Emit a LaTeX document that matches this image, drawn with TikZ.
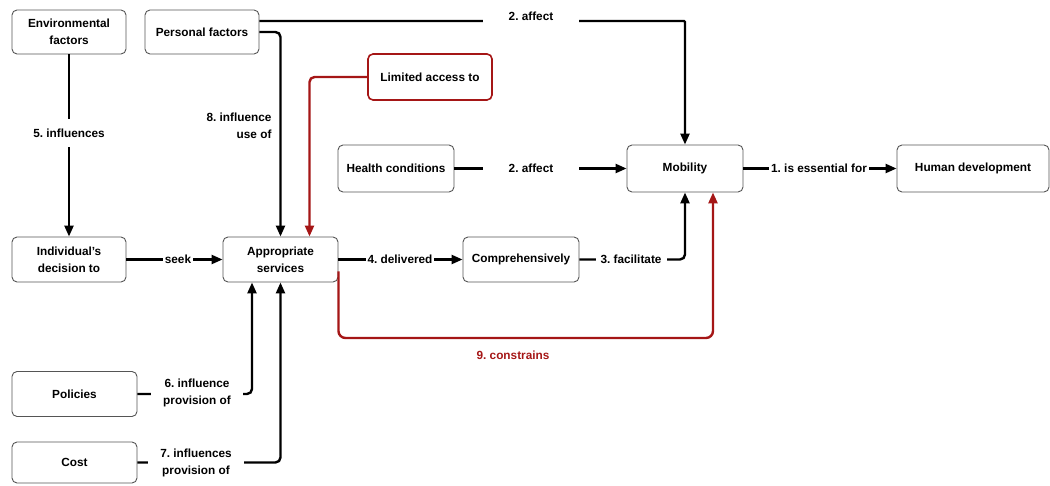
\documentclass[tikz,border=0pt]{standalone}
\usepackage{fontspec}
\setmainfont{Liberation Sans}
\usetikzlibrary{arrows.meta,calc}
\definecolor{dred}{RGB}{165,22,22}
\definecolor{bgray}{RGB}{85,85,85}
\newcommand\lblfont{\fontsize{11.8}{17}\selectfont\bfseries\frenchspacing}
\begin{document}
\begin{tikzpicture}[x=1pt,y=-1pt,
  box/.style={draw=bgray, line width=0.9pt, rounded corners=5pt, fill=white,
    align=center, inner sep=0pt, font=\lblfont},
  redbox/.style={box, draw=dred, line width=1.6pt},
  conn/.style={line width=2.4pt, rounded corners=5pt,
    -{Triangle[length=11pt,width=9pt]}},
  redconn/.style={conn, draw=dred, -{Triangle[length=11pt,width=9pt,fill=dred]}},
  lab/.style={fill=white, font=\lblfont, align=center, inner xsep=4pt, inner ysep=2pt},
  lab2/.style={font=\lblfont, align=center}]
\useasboundingbox (0,0) rectangle (1050,486);
% nodes
\node[box, minimum width=114pt, minimum height=44pt] (env) at (69,32) {Environmental\\factors};
\node[box, minimum width=114pt, minimum height=44pt] (pers) at (202,32) {Personal factors};
\node[redbox, minimum width=124pt, minimum height=46pt] (lim) at (430,77) {Limited access to};
\node[box, minimum width=116pt, minimum height=47pt] (health) at (396,168.5) {Health conditions};
\node[box, minimum width=116pt, minimum height=47pt] (mob) at (685,168.5) {Mobility};
\node[box, minimum width=152pt, minimum height=47pt] (hum) at (973,168.5) {Human development};
\node[box, minimum width=114pt, minimum height=45pt] (ind) at (69,259.5) {Individual's\\decision to};
\node[box, minimum width=115pt, minimum height=45pt] (app) at (280.5,259.5) {Appropriate\\services};
\node[box, minimum width=116pt, minimum height=45pt] (comp) at (521,259.5) {Comprehensively};
\node[box, minimum width=125pt, minimum height=45pt] (pol) at (74.5,394) {Policies};
\node[box, minimum width=125pt, minimum height=41pt] (cost) at (74.5,462.5) {Cost};
\coordinate (rb) at (713,338);
% connectors
\draw[conn] (env) -- (ind);
\node[lab, inner ysep=10pt] (l5) at (69,133) {5. influences};
\draw[conn, rounded corners=1pt] ([yshift=11pt]pers.east) -| (mob.north);
\node[lab, minimum width=96pt, minimum height=22pt] (l2a) at (531,16) {2. affect};
\draw[conn] (pers.east) -| (app.north);
\node[lab2, align=right, anchor=east] (l8) at (275,126) {8. influence\\use of};
\draw[redconn] (lim.west) -| ([xshift=29pt]app.north);
\draw[conn] (health) -- (mob);
\node[lab, minimum width=96pt] (l2b) at (531,168.5) {2. affect};
\draw[conn] (mob) -- (hum);
\node[lab, inner xsep=2pt] (l1) at (819,168.5) {1. is essential for};
\draw[conn] (ind) -- (app);
\node[lab, inner xsep=2pt] (ls) at (178,259.5) {seek};
\draw[conn] (app) -- (comp);
\node[lab, inner xsep=2pt] (l4) at (400,259.5) {4. delivered};
\draw[conn] (comp) -| (mob.south);
\node[lab, inner xsep=5pt] (l3) at (631,259.5) {3. facilitate};
\draw[redconn, rounded corners=7pt] ([yshift=-12pt]app.east) |- (rb) -- (rb |- mob.south);
\node[lab2, text=dred] (l9) at (513,355) {9. constrains};
\draw[conn] (pol) -| ([xshift=-28.5pt]app.south);
\node[lab, inner xsep=12pt] (l6) at (197,393) {6. influence\\provision of};
\draw[conn] (cost) -| (app.south);
\node[lab, inner xsep=12pt] (l7) at (196,462.5) {7. influences\\provision of};
\end{tikzpicture}
\end{document}
